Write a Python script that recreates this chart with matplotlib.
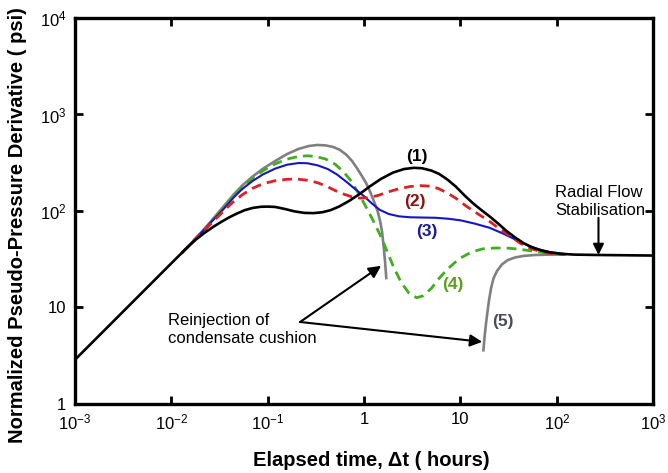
import matplotlib.pyplot as plt

plt.rcParams['font.family'] = ['Liberation Sans', 'DejaVu Sans']
plt.rcParams['mathtext.default'] = 'regular'

# curve (1) - black
x1 = [0.001, 0.01, 0.014, 0.018, 0.022, 0.027, 0.033, 0.04, 0.048, 0.058, 0.07, 0.085, 0.1,
      0.12, 0.15, 0.19, 0.24, 0.3, 0.37, 0.45, 0.55, 0.7, 0.9, 1.15, 1.5, 2.0, 2.6, 3.3,
      4.0, 5.0, 6.0, 7.3, 9.0, 11, 13.5, 16.5, 20, 25, 30, 37, 45, 55, 70, 85, 110, 150,
      250, 1000]
y1 = [2.86, 28.6, 40, 50.5, 59, 68, 77, 86, 94, 102, 107.5, 110.5, 111,
      110, 105, 99, 95.5, 95, 97, 102, 111, 127, 150, 180, 215, 250, 272, 280,
      277, 262, 242, 212, 178, 145, 120, 102, 88, 73, 62, 53, 46.5, 42, 38.8, 37.2, 36, 35.3,
      35, 34.5]

# curve (2) - red dashed
x2 = [0.013, 0.017, 0.022, 0.028, 0.035, 0.043, 0.055, 0.07, 0.09, 0.12, 0.16, 0.2, 0.26,
      0.33, 0.41, 0.5, 0.62, 0.75, 0.9, 1.1, 1.4, 1.8, 2.3, 3.0, 3.8, 4.7, 5.8, 7.2, 9,
      11.5, 15, 20, 25, 32, 42, 55, 70, 90, 120]
y2 = [37, 48.6, 63, 80, 100, 122, 148, 172, 192, 206, 213, 214, 208,
      196, 180, 163, 149, 140, 136, 137, 145, 158, 170, 179, 183, 181, 172, 155, 135,
      112, 94, 78, 66, 56, 46, 40.5, 37.5, 36, 35.5]

# curve (3) - blue
x3 = [0.013, 0.017, 0.022, 0.028, 0.035, 0.045, 0.055, 0.07, 0.09, 0.12, 0.16, 0.21, 0.26,
      0.33, 0.42, 0.52, 0.65, 0.8, 1.0, 1.2, 1.45, 1.8, 2.3, 3.0, 4.0, 5.5, 7.5, 10, 14,
      20, 28, 38, 50, 65, 85, 120]
y3 = [37, 49, 64, 83, 105, 140, 170, 205, 240, 275, 302, 314, 312,
      297, 272, 240, 202, 170, 142, 120, 103, 93, 88, 86, 85.5, 85, 83, 80, 74,
      67, 58, 50, 44, 40, 37.5, 35.8]

# curve (4) - green dashed
x4 = [0.013, 0.017, 0.022, 0.028, 0.035, 0.045, 0.055, 0.07, 0.09, 0.12, 0.16, 0.21, 0.26,
      0.32, 0.4, 0.5, 0.6, 0.72, 0.85, 1.0, 1.2, 1.45, 1.7, 2.0, 2.4, 2.9, 3.5, 4.1, 5.0,
      6.0, 7.2, 8.5, 10, 13, 17, 23, 30, 40, 55, 70, 100]
y4 = [37, 49, 64, 83, 108, 145, 178, 218, 262, 308, 345, 368, 373,
      366, 345, 305, 260, 210, 160, 120, 85, 58, 40, 27, 18.5, 14.2, 12.6, 13.2, 15.8,
      20, 24.5, 28.5, 32.5, 37.5, 40.5, 41.3, 41.3, 40.2, 38.5, 37.3, 36]

# curve (5) - grey, two segments
x5a = [0.013, 0.017, 0.022, 0.028, 0.035, 0.045, 0.055, 0.07, 0.09, 0.12, 0.16, 0.21, 0.27,
       0.33, 0.4, 0.48, 0.56, 0.65, 0.75, 0.85, 0.95, 1.05, 1.15, 1.27, 1.38, 1.47, 1.54,
       1.6, 1.65, 1.70]
y5a = [37, 49, 65, 86, 112, 150, 185, 228, 275, 330, 390, 440, 472,
       483, 478, 460, 430, 385, 330, 275, 230, 195, 160, 125, 100, 78, 60,
       42, 30, 20.2]
x5b = [17.3, 17.8, 18.4, 19.0, 19.8, 20.8, 22, 24, 27, 31, 37, 45, 60, 85, 120]
y5b = [3.6, 5, 6.8, 8.8, 12, 16, 20, 24, 28, 31, 33, 34.2, 35, 35.3, 35.3]

xticks = [1e-3, 1e-2, 1e-1, 1, 10, 1e2, 1e3]
xtick_labels = ['10$^{-3}$', '10$^{-2}$', '10$^{-1}$', '1', '10', '10$^{2}$', '10$^{3}$']
yticks = [1, 10, 1e2, 1e3, 1e4]
ytick_labels = ['1', '10', '10$^{2}$', '10$^{3}$', '10$^{4}$']

fig = plt.figure(figsize=(6.68, 4.73), dpi=100)
ax = fig.add_axes([0.112, 0.146, 0.866, 0.816])

ax.plot(x5a, y5a, color='#808080', lw=1.9)
ax.plot(x5b, y5b, color='#808080', lw=1.9)
ax.plot(x4, y4, color='#3fae1f', lw=2.0, dashes=(3.5, 2.2))
ax.plot(x3, y3, color='#1515c8', lw=1.5)
ax.plot(x2, y2, color='#e02020', lw=2.0, dashes=(3.5, 2.2))
ax.plot(x1, y1, color='black', lw=1.9)

ax.set_xscale('log')
ax.set_yscale('log')
ax.set_xlim(1e-3, 1e3)
ax.set_ylim(1, 1e4)
ax.set_xticks(xticks)
ax.set_xticklabels(xtick_labels)
ax.set_yticks(yticks)
ax.set_yticklabels(ytick_labels)
ax.minorticks_off()
ax.tick_params(direction='in', length=6, width=2, labelsize=12, top=True, right=True, pad=6)
for s in ax.spines.values():
    s.set_linewidth(2.4)

ax.set_xlabel('Elapsed time, Δt ( hours)', fontsize=14.5, fontweight='bold')
ax.set_ylabel('Normalized Pseudo-Pressure Derivative ( psi)', fontsize=14.5, fontweight='bold')
ax.xaxis.set_label_coords(0.512, -0.122)
ax.yaxis.set_label_coords(-0.083, 0.464)

# curve labels
ax.text(3.56, 363, '(1)', color='black', fontsize=12.5, fontweight='bold', ha='center', va='center')
ax.text(3.4, 124, '(2)', color='#8b1010', fontsize=12.5, fontweight='bold', ha='center', va='center')
ax.text(4.5, 60.6, '(3)', color='#1a1a9a', fontsize=12.5, fontweight='bold', ha='center', va='center')
ax.text(8.4, 17.1, '(4)', color='#5aa01e', fontsize=12.5, fontweight='bold', ha='center', va='center')
ax.text(27.8, 7.07, '(5)', color='#4a4a5a', fontsize=12.5, fontweight='bold', ha='center', va='center')

# annotations
ax.text(0.0092, 5.85, 'Reinjection of\ncondensate cushion', fontsize=12, ha='left', va='center',
        linespacing=1.25)
ax.annotate('', xy=(1.5, 27), xytext=(0.217, 7.07),
            arrowprops=dict(arrowstyle='-|>', color='black', lw=1.5, mutation_scale=18,
                            shrinkA=0, shrinkB=0))
ax.annotate('', xy=(16.8, 4.4), xytext=(0.217, 7.07),
            arrowprops=dict(arrowstyle='-|>', color='black', lw=1.5, mutation_scale=18,
                            shrinkA=0, shrinkB=0))
ax.text(96, 124, 'Radial Flow\nStabilisation', fontsize=12, ha='left', va='center', linespacing=1.25)
ax.annotate('', xy=(270, 35), xytext=(270, 85),
            arrowprops=dict(arrowstyle='-|>', color='black', lw=1.5, mutation_scale=16,
                            shrinkA=0, shrinkB=0))

fig.savefig('out.png', dpi=100)
